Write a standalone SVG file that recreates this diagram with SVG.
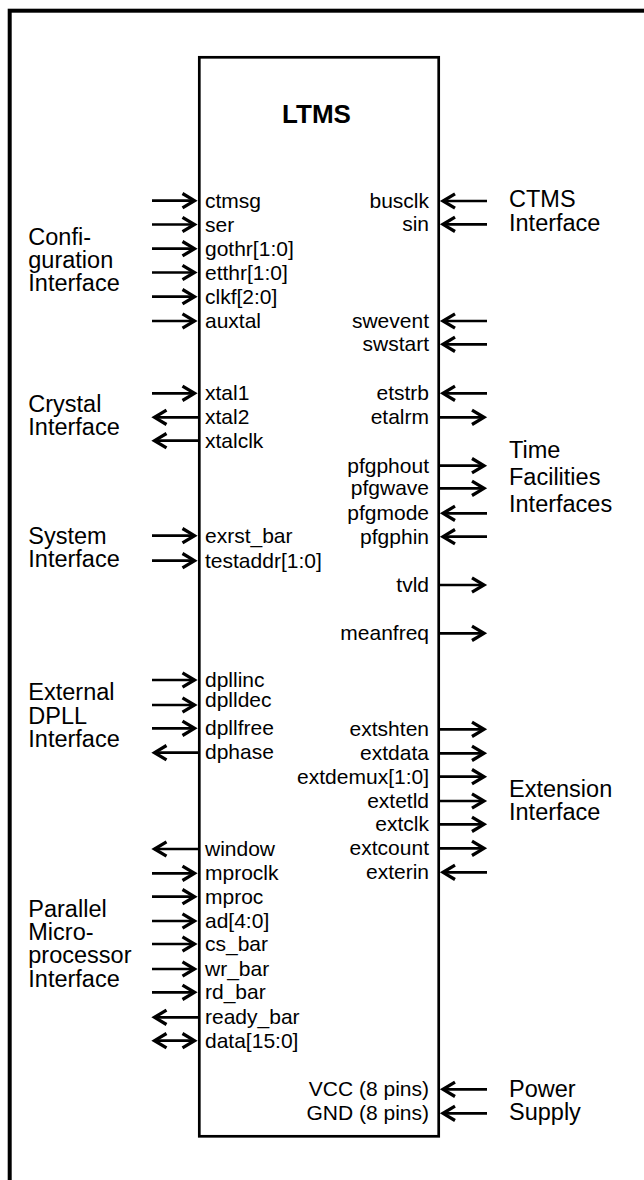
<svg xmlns="http://www.w3.org/2000/svg" width="644" height="1180" viewBox="0 0 644 1180">
<style>
.pin{font-family:"Liberation Sans",Arial,sans-serif;font-size:21px;fill:#000}
.r{text-anchor:end}
.grp{font-family:"Liberation Sans",Arial,sans-serif;font-size:23.5px;fill:#000}
.ttl{font-family:"Liberation Sans",Arial,sans-serif;font-size:26px;font-weight:bold;text-anchor:middle;fill:#000}
.w{stroke:#000;stroke-width:2.7;fill:none}
.in{marker-end:url(#ah)}
.both{marker-start:url(#ah);marker-end:url(#ah)}
</style>
<defs>
<marker id="ah" markerUnits="userSpaceOnUse" markerWidth="24" markerHeight="24" viewBox="-14 -10 20 20" refX="0" refY="0" orient="auto-start-reverse" overflow="visible">
<path d="M-10,-6 L0,0 L-10,6" fill="none" stroke="#000" stroke-width="2.7"/>
</marker>
</defs>
<rect x="0" y="0" width="644" height="1180" fill="#fff"/>
<rect id="frame" x="9.7" y="10.7" width="700" height="1300" fill="none" stroke="#000" stroke-width="4"/>

<g id="ltms">
<rect x="199.3" y="57.3" width="239.4" height="1079" fill="none" stroke="#000" stroke-width="2.7"/>
<text class="ttl" x="316.5" y="123">LTMS</text>
<g class="pin">
<text x="205" y="207.7">ctmsg</text>
<text x="205" y="231.5">ser</text>
<text x="205" y="255.7">gothr[1:0]</text>
<text x="205" y="279.5">etthr[1:0]</text>
<text x="205" y="303.7">clkf[2:0]</text>
<text x="205" y="328">auxtal</text>
<text x="205" y="400.3">xtal1</text>
<text x="205" y="424.3">xtal2</text>
<text x="205" y="447.7">xtalclk</text>
<text x="205" y="542.7">exrst_bar</text>
<text x="205" y="567.7">testaddr[1:0]</text>
<text x="205" y="687">dpllinc</text>
<text x="205" y="707">dplldec</text>
<text x="205" y="735">dpllfree</text>
<text x="205" y="758.5">dphase</text>
<text x="205" y="856">window</text>
<text x="205" y="880.3">mproclk</text>
<text x="205" y="903.7">mproc</text>
<text x="205" y="928">ad[4:0]</text>
<text x="205" y="951">cs_bar</text>
<text x="205" y="976">wr_bar</text>
<text x="205" y="999.3">rd_bar</text>
<text x="205" y="1024.3">ready_bar</text>
<text x="205" y="1047.7">data[15:0]</text>
</g>
<g class="pin r">
<text x="429" y="207.5">busclk</text>
<text x="429" y="230.8">sin</text>
<text x="429" y="327.5">swevent</text>
<text x="429" y="350.8">swstart</text>
<text x="429" y="400">etstrb</text>
<text x="429" y="424">etalrm</text>
<text x="429" y="472.5">pfgphout</text>
<text x="429" y="495">pfgwave</text>
<text x="429" y="520">pfgmode</text>
<text x="429" y="543.5">pfgphin</text>
<text x="429" y="591.8">tvld</text>
<text x="429" y="640">meanfreq</text>
<text x="429" y="736">extshten</text>
<text x="429" y="760">extdata</text>
<text x="429" y="783.5">extdemux[1:0]</text>
<text x="429" y="807.8">extetld</text>
<text x="429" y="831">extclk</text>
<text x="429" y="855">extcount</text>
<text x="429" y="879">exterin</text>
<text x="429" y="1096">VCC (8 pins)</text>
<text x="429" y="1120">GND (8 pins)</text>
</g>
</g>

<g id="config-if" class="grp">
<text x="28.3" y="244.5">Confi-</text>
<text x="28.3" y="267.5">guration</text>
<text x="28.3" y="290.5">Interface</text>
</g>
<g id="crystal-if" class="grp">
<text x="28.3" y="411.5">Crystal</text>
<text x="28.3" y="434.5">Interface</text>
</g>
<g id="system-if" class="grp">
<text x="28.3" y="543.5">System</text>
<text x="28.3" y="567">Interface</text>
</g>
<g id="dpll-if" class="grp">
<text x="28.3" y="700">External</text>
<text x="28.3" y="723.5">DPLL</text>
<text x="28.3" y="747">Interface</text>
</g>
<g id="mproc-if" class="grp">
<text x="28.3" y="916.7">Parallel</text>
<text x="28.3" y="940">Micro-</text>
<text x="28.3" y="963.3">processor</text>
<text x="28.3" y="986.7">Interface</text>
</g>
<g id="ctms-if" class="grp">
<text x="509" y="206.5">CTMS</text>
<text x="509" y="230.5">Interface</text>
</g>
<g id="time-if" class="grp">
<text x="509" y="458">Time</text>
<text x="509" y="485">Facilities</text>
<text x="509" y="512">Interfaces</text>
</g>
<g id="ext-if" class="grp">
<text x="509" y="796.7">Extension</text>
<text x="509" y="820">Interface</text>
</g>
<g id="power-if" class="grp">
<text x="509" y="1096.7">Power</text>
<text x="509" y="1120">Supply</text>
</g>

<g id="connectors" class="w">
<!-- left inputs -->
<line class="in" x1="152" y1="200.7" x2="194.5" y2="200.7"/>
<line class="in" x1="152" y1="224.5" x2="194.5" y2="224.5"/>
<line class="in" x1="152" y1="248.7" x2="194.5" y2="248.7"/>
<line class="in" x1="152" y1="272.5" x2="194.5" y2="272.5"/>
<line class="in" x1="152" y1="296.7" x2="194.5" y2="296.7"/>
<line class="in" x1="152" y1="321" x2="194.5" y2="321"/>
<line class="in" x1="152" y1="393.3" x2="194.5" y2="393.3"/>
<line class="in" x1="199" y1="417.3" x2="154.5" y2="417.3"/>
<line class="in" x1="199" y1="440.7" x2="154.5" y2="440.7"/>
<line class="in" x1="152" y1="535.7" x2="194.5" y2="535.7"/>
<line class="in" x1="152" y1="560.7" x2="194.5" y2="560.7"/>
<line class="in" x1="152" y1="680" x2="194.5" y2="680"/>
<line class="in" x1="152" y1="705" x2="194.5" y2="705"/>
<line class="in" x1="152" y1="728.3" x2="194.5" y2="728.3"/>
<line class="in" x1="199" y1="752.7" x2="154.5" y2="752.7"/>
<line class="in" x1="199" y1="849" x2="154.5" y2="849"/>
<line class="in" x1="152" y1="873.3" x2="194.5" y2="873.3"/>
<line class="in" x1="152" y1="896.7" x2="194.5" y2="896.7"/>
<line class="in" x1="152" y1="921" x2="194.5" y2="921"/>
<line class="in" x1="152" y1="944" x2="194.5" y2="944"/>
<line class="in" x1="152" y1="969" x2="194.5" y2="969"/>
<line class="in" x1="152" y1="992.3" x2="194.5" y2="992.3"/>
<line class="in" x1="199" y1="1017.3" x2="154.5" y2="1017.3"/>
<line class="both" x1="154.5" y1="1040.7" x2="194.5" y2="1040.7"/>
<!-- right side -->
<line class="in" x1="487" y1="201" x2="443" y2="201"/>
<line class="in" x1="487" y1="224.3" x2="443" y2="224.3"/>
<line class="in" x1="487" y1="321" x2="443" y2="321"/>
<line class="in" x1="487" y1="344.3" x2="443" y2="344.3"/>
<line class="in" x1="487" y1="393.3" x2="443" y2="393.3"/>
<line class="in" x1="439" y1="417.3" x2="484" y2="417.3"/>
<line class="in" x1="439" y1="465.7" x2="484" y2="465.7"/>
<line class="in" x1="439" y1="488.3" x2="484" y2="488.3"/>
<line class="in" x1="487" y1="513.3" x2="443" y2="513.3"/>
<line class="in" x1="487" y1="536.7" x2="443" y2="536.7"/>
<line class="in" x1="439" y1="585" x2="484" y2="585"/>
<line class="in" x1="439" y1="633.3" x2="484" y2="633.3"/>
<line class="in" x1="439" y1="729.3" x2="484" y2="729.3"/>
<line class="in" x1="439" y1="753.3" x2="484" y2="753.3"/>
<line class="in" x1="439" y1="776.7" x2="484" y2="776.7"/>
<line class="in" x1="439" y1="801" x2="484" y2="801"/>
<line class="in" x1="439" y1="824.3" x2="484" y2="824.3"/>
<line class="in" x1="439" y1="848.3" x2="484" y2="848.3"/>
<line class="in" x1="487" y1="872.3" x2="443" y2="872.3"/>
<line class="in" x1="487" y1="1089.3" x2="443" y2="1089.3"/>
<line class="in" x1="487" y1="1113.3" x2="443" y2="1113.3"/>
</g>
</svg>
